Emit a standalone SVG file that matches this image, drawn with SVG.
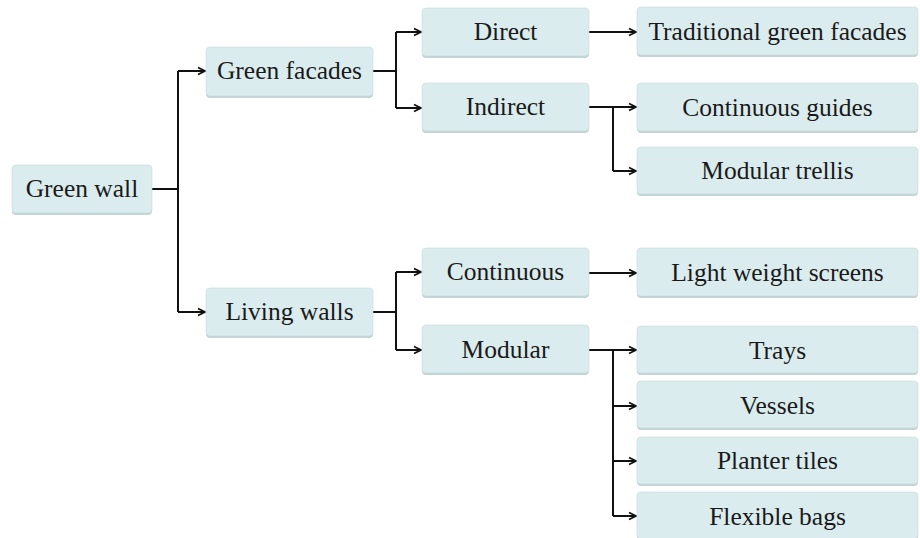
<svg xmlns="http://www.w3.org/2000/svg" width="920" height="538" viewBox="0 0 920 538">
<style>
.box{fill:#daecee;stroke:#c9dadc;stroke-width:0.6}
.sh{fill:#c4d3d4}
.t{font-family:"Liberation Serif","Times New Roman",serif;font-size:25.5px;fill:#1a1a1a;text-anchor:middle;dominant-baseline:central}
.c{fill:none;stroke:#111;stroke-width:2}
</style>
<defs>
<marker id="ah" markerWidth="10" markerHeight="10" refX="8" refY="5" orient="auto" markerUnits="userSpaceOnUse">
<path d="M1,1.5 L8,5 L1,8.5" fill="none" stroke="#111" stroke-width="1.8"/>
</marker>
</defs>
<rect width="920" height="538" fill="#fff"/>
<g id="connectors">
<path class="c" d="M152,189 H178 M178,71 V312"/>
<path class="c" d="M178,71 H205" marker-end="url(#ah)"/>
<path class="c" d="M178,312 H205" marker-end="url(#ah)"/>
<path class="c" d="M373,71 H396 M396,32 V108"/>
<path class="c" d="M396,32 H421" marker-end="url(#ah)"/>
<path class="c" d="M396,108 H421" marker-end="url(#ah)"/>
<path class="c" d="M373,312 H396 M396,272 V350"/>
<path class="c" d="M396,272 H421" marker-end="url(#ah)"/>
<path class="c" d="M396,350 H421" marker-end="url(#ah)"/>
<path class="c" d="M589,32 H636" marker-end="url(#ah)"/>
<path class="c" d="M589,107 H636" marker-end="url(#ah)"/>
<path class="c" d="M613,107 V171"/>
<path class="c" d="M613,171 H636" marker-end="url(#ah)"/>
<path class="c" d="M589,273 H636" marker-end="url(#ah)"/>
<path class="c" d="M589,350 H636" marker-end="url(#ah)"/>
<path class="c" d="M613,350 V516"/>
<path class="c" d="M613,406 H636" marker-end="url(#ah)"/>
<path class="c" d="M613,461 H636" marker-end="url(#ah)"/>
<path class="c" d="M613,516 H636" marker-end="url(#ah)"/>
</g>
<g id="green-wall"><rect class="sh" x="12" y="166" width="140" height="49" rx="4"/><rect class="box" x="12" y="165" width="140" height="48" rx="4"/><text class="t" x="82" y="188">Green wall</text></g>
<g id="green-facades"><rect class="sh" x="206" y="48" width="167" height="50" rx="4"/><rect class="box" x="206" y="47" width="167" height="49" rx="4"/><text class="t" x="289.5" y="70">Green facades</text></g>
<g id="living-walls"><rect class="sh" x="206" y="289" width="167" height="49" rx="4"/><rect class="box" x="206" y="288" width="167" height="48" rx="4"/><text class="t" x="289.5" y="311">Living walls</text></g>
<g id="direct"><rect class="sh" x="422" y="9" width="167" height="49" rx="4"/><rect class="box" x="422" y="8" width="167" height="48" rx="4"/><text class="t" x="505.5" y="31">Direct</text></g>
<g id="indirect"><rect class="sh" x="422" y="84" width="167" height="49" rx="4"/><rect class="box" x="422" y="83" width="167" height="48" rx="4"/><text class="t" x="505.5" y="106">Indirect</text></g>
<g id="continuous"><rect class="sh" x="422" y="249" width="167" height="49" rx="4"/><rect class="box" x="422" y="248" width="167" height="48" rx="4"/><text class="t" x="505.5" y="271">Continuous</text></g>
<g id="modular"><rect class="sh" x="422" y="326" width="167" height="49" rx="4"/><rect class="box" x="422" y="325" width="167" height="48" rx="4"/><text class="t" x="505.5" y="349">Modular</text></g>
<g id="traditional"><rect class="sh" x="637" y="8" width="281" height="49" rx="4"/><rect class="box" x="637" y="7" width="281" height="48" rx="4"/><text class="t" x="777.5" y="31">Traditional green facades</text></g>
<g id="continuous-guides"><rect class="sh" x="637" y="84" width="281" height="49" rx="4"/><rect class="box" x="637" y="83" width="281" height="48" rx="4"/><text class="t" x="777.5" y="107">Continuous guides</text></g>
<g id="modular-trellis"><rect class="sh" x="637" y="148" width="281" height="48" rx="4"/><rect class="box" x="637" y="147" width="281" height="47" rx="4"/><text class="t" x="777.5" y="170">Modular trellis</text></g>
<g id="light-weight-screens"><rect class="sh" x="637" y="249" width="281" height="49" rx="4"/><rect class="box" x="637" y="248" width="281" height="48" rx="4"/><text class="t" x="777.5" y="272">Light weight screens</text></g>
<g id="trays"><rect class="sh" x="637" y="327" width="281" height="48" rx="4"/><rect class="box" x="637" y="326" width="281" height="47" rx="4"/><text class="t" x="777.5" y="350">Trays</text></g>
<g id="vessels"><rect class="sh" x="637" y="382" width="281" height="48" rx="4"/><rect class="box" x="637" y="381" width="281" height="47" rx="4"/><text class="t" x="777.5" y="405">Vessels</text></g>
<g id="planter-tiles"><rect class="sh" x="637" y="438" width="281" height="48" rx="4"/><rect class="box" x="637" y="437" width="281" height="47" rx="4"/><text class="t" x="777.5" y="460">Planter tiles</text></g>
<g id="flexible-bags"><rect class="sh" x="637" y="493" width="281" height="48" rx="4"/><rect class="box" x="637" y="492" width="281" height="47" rx="4"/><text class="t" x="777.5" y="516">Flexible bags</text></g>
</svg>
